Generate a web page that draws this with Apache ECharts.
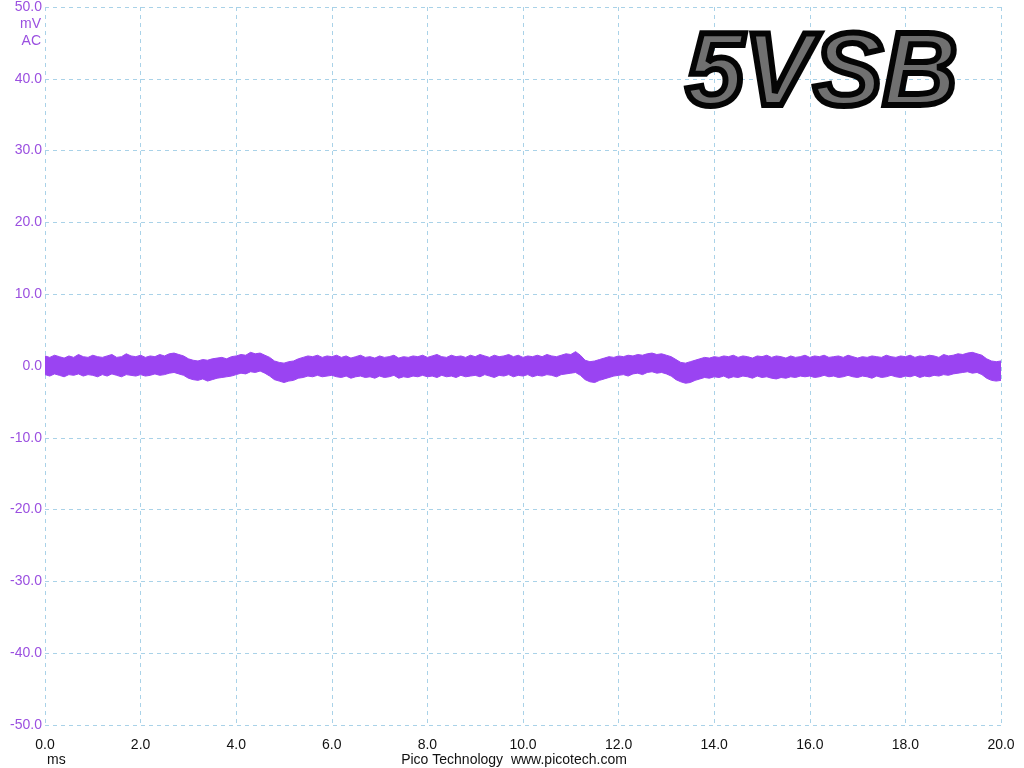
<!DOCTYPE html>
<html>
<head>
<meta charset="utf-8">
<script src="https://cdn.jsdelivr.net/npm/echarts@6/dist/echarts.min.js"></script>
<style>
html,body{margin:0;padding:0;background:#fff;}
#chart{width:1024px;height:768px;}
</style>
</head>
<body>
<div id="chart"></div>
<script>
// time axis (ms), 0.1 ms steps
var timeMs = [];
for (var i = 0; i <= 200; i++) { timeMs.push((i / 10).toFixed(1)); }

// upper envelope of the 5VSB ripple trace (mV)
var upperMv = [
 1.4,1.2,1.5,1.3,1.1,1.4,1.2,1.6,1.3,1.2,
 1.5,1.3,1.2,1.4,1.6,1.2,1.3,1.7,1.4,1.3,
 1.5,1.2,1.4,1.3,1.6,1.4,1.7,1.8,1.6,1.4,
 1.0,0.8,0.7,0.9,0.8,1.0,1.1,1.2,1.0,1.3,
 1.4,1.6,1.5,1.9,1.7,1.8,1.5,1.2,0.7,0.5,
 0.4,0.6,0.7,1.0,1.2,1.4,1.3,1.5,1.2,1.4,
 1.3,1.5,1.2,1.4,1.1,1.3,1.5,1.2,1.3,1.1,
 1.4,1.2,1.3,1.5,1.1,1.3,1.2,1.4,1.3,1.5,
 1.2,1.4,1.6,1.3,1.2,1.5,1.3,1.4,1.2,1.5,
 1.3,1.6,1.4,1.2,1.5,1.3,1.4,1.6,1.3,1.5,
 1.2,1.4,1.3,1.5,1.3,1.6,1.4,1.3,1.5,1.7,
 1.6,2.0,1.5,0.8,0.6,0.7,0.9,1.1,1.3,1.2,
 1.4,1.3,1.5,1.4,1.6,1.5,1.7,1.8,1.6,1.7,
 1.5,1.3,0.9,0.5,0.4,0.6,0.8,1.0,1.2,1.1,
 1.3,1.2,1.4,1.3,1.5,1.2,1.4,1.3,1.1,1.4,
 1.3,1.5,1.2,1.4,1.3,1.1,1.4,1.2,1.3,1.5,
 1.2,1.4,1.3,1.5,1.2,1.3,1.4,1.2,1.5,1.3,
 1.1,1.3,1.2,1.4,1.3,1.2,1.5,1.3,1.2,1.4,
 1.3,1.5,1.2,1.4,1.3,1.5,1.4,1.2,1.6,1.4,
 1.5,1.7,1.6,1.8,1.9,1.7,1.5,1.0,0.7,0.6,
 0.7
];

// lower envelope of the trace (mV)
var lowerMv = [
 -1.2,-1.4,-1.1,-1.3,-1.5,-1.2,-1.3,-1.1,-1.4,-1.2,
 -1.3,-1.5,-1.2,-1.4,-1.1,-1.3,-1.5,-1.2,-1.3,-1.4,
 -1.2,-1.4,-1.3,-1.1,-1.3,-1.2,-1.0,-0.9,-1.1,-1.3,
 -1.7,-1.9,-2.0,-1.8,-2.1,-1.9,-1.7,-1.6,-1.5,-1.4,
 -1.2,-1.0,-1.1,-0.8,-0.9,-0.7,-1.0,-1.4,-1.9,-2.1,
 -2.3,-2.1,-2.0,-1.7,-1.6,-1.4,-1.5,-1.3,-1.5,-1.4,
 -1.3,-1.5,-1.6,-1.4,-1.7,-1.5,-1.4,-1.6,-1.5,-1.7,
 -1.4,-1.6,-1.5,-1.3,-1.7,-1.5,-1.6,-1.4,-1.5,-1.3,
 -1.5,-1.4,-1.6,-1.3,-1.5,-1.4,-1.6,-1.3,-1.5,-1.4,
 -1.3,-1.5,-1.2,-1.4,-1.6,-1.3,-1.4,-1.2,-1.5,-1.3,
 -1.4,-1.2,-1.5,-1.3,-1.4,-1.2,-1.3,-1.5,-1.2,-1.1,
 -1.0,-0.9,-1.3,-1.9,-2.2,-2.3,-2.0,-1.8,-1.6,-1.4,
 -1.3,-1.2,-1.4,-1.1,-1.0,-1.2,-0.9,-0.8,-1.0,-0.9,
 -1.1,-1.4,-1.9,-2.2,-2.4,-2.3,-2.0,-1.8,-1.6,-1.7,
 -1.5,-1.6,-1.4,-1.7,-1.5,-1.6,-1.4,-1.5,-1.7,-1.4,
 -1.6,-1.5,-1.7,-1.8,-1.6,-1.7,-1.5,-1.6,-1.4,-1.5,
 -1.4,-1.6,-1.5,-1.3,-1.5,-1.4,-1.6,-1.5,-1.3,-1.5,
 -1.6,-1.4,-1.5,-1.7,-1.4,-1.6,-1.5,-1.3,-1.5,-1.6,
 -1.4,-1.5,-1.3,-1.6,-1.4,-1.5,-1.3,-1.4,-1.2,-1.3,
 -1.1,-1.0,-0.9,-0.8,-1.0,-0.9,-1.2,-1.7,-2.0,-2.1,
 -2.0
];

var traceColor = '#9a44f2';
var labelColor = '#9b50e0';
var gridColor = '#a9d2e8';

var lowerPts = timeMs.map(function (t, i) { return [Number(t), lowerMv[i]]; });
var upperPts = timeMs.map(function (t, i) { return [Number(t), upperMv[i]]; });

var titleFont = 'italic bold 104px "Liberation Sans"';

var chart = echarts.init(document.getElementById('chart'), null, {renderer: 'canvas'});
chart.setOption({
  animation: false,
  backgroundColor: '#ffffff',
  grid: {left: 45, right: 23, top: 7, bottom: 43, containLabel: false},
  xAxis: {
    type: 'value', min: 0, max: 20, interval: 2,
    axisLine: {show: false}, axisTick: {show: false},
    axisLabel: {color: '#111', fontFamily: 'Liberation Sans', fontSize: 14, margin: 13,
      formatter: function (v) { return v.toFixed(1); }},
    splitLine: {show: true, lineStyle: {color: gridColor, type: [4, 4], width: 1}}
  },
  yAxis: {
    type: 'value', min: -50, max: 50, interval: 10,
    axisLine: {show: false}, axisTick: {show: false},
    axisLabel: {color: labelColor, fontFamily: 'Liberation Sans', fontSize: 14, margin: 3,
      formatter: function (v) { return v.toFixed(1); }},
    splitLine: {show: true, lineStyle: {color: gridColor, type: [4, 4], width: 1}}
  },
  series: [{
    type: 'custom',
    renderItem: function (params, api) {
      var pts = [];
      for (var i = 0; i < upperPts.length; i++) pts.push(api.coord(upperPts[i]));
      for (var j = lowerPts.length - 1; j >= 0; j--) pts.push(api.coord(lowerPts[j]));
      return {
        type: 'polygon',
        shape: {points: pts},
        style: {fill: traceColor, stroke: traceColor, lineWidth: 1}
      };
    },
    data: [[0, 0]],
    clip: true
  }],
  graphic: [
    {type: 'text', style: {text: 'mV', x: 41, y: 17, align: 'right', fill: labelColor, font: '14px "Liberation Sans"'}},
    {type: 'text', style: {text: 'AC', x: 41, y: 34, align: 'right', fill: labelColor, font: '14px "Liberation Sans"'}},
    {type: 'text', style: {text: 'ms', x: 47, y: 753, fill: '#111', font: '14px "Liberation Sans"'}},
    {type: 'text', style: {text: 'Pico Technology  www.picotech.com', x: 514, y: 753, align: 'center', fill: '#111', font: '14px "Liberation Sans"'}},
    {type: 'text', z: 10, style: {
      text: '5VSB', x: 686, y: 24,
      font: titleFont,
      fill: '#707070'
    }},
    {type: 'text', z: 11, style: {
      text: '5VSB', x: 686, y: 24,
      font: titleFont,
      fill: 'rgba(0,0,0,0)',
      stroke: '#050505', lineWidth: 6,
      shadowBlur: 5, shadowColor: 'rgba(0,0,0,0.7)'
    }}
  ]
});
</script>
</body>
</html>
